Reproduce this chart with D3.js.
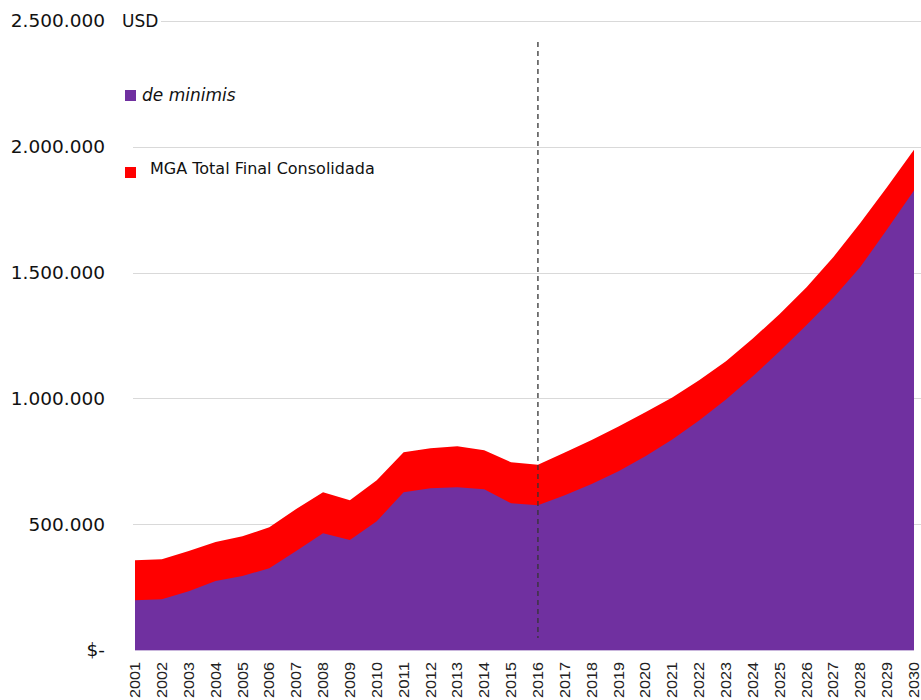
<!DOCTYPE html>
<html>
<head>
<meta charset="utf-8">
<script src="https://cdn.jsdelivr.net/npm/d3@7"></script>
<style>
  body { margin: 0; background: #fff; }
  svg { display: block; }
</style>
</head>
<body>
<div id="chart"></div>
<script>
const years = d3.range(2001, 2031);
const totalValues = [357000, 361000, 393000, 429000, 452000, 488000, 560000, 627000, 595000, 675000,
    786000, 802000, 810000, 794000, 746000, 736000, 785000, 835000, 888000, 945000,
    1004000, 1072000, 1148000, 1238000, 1335000, 1442000, 1562000, 1697000, 1840000, 1988000];
const deMinimisValues = [198000, 202000, 234000, 274000, 294000, 325000, 393000, 464000, 437000, 512000,
    627000, 643000, 647000, 639000, 583000, 575000, 615000, 660000, 710000, 770000,
    837000, 912000, 996000, 1088000, 1187000, 1292000, 1400000, 1522000, 1672000, 1826000];
const yTicks = [0, 500000, 1000000, 1500000, 2000000, 2500000];
const splitYear = 2016;
const seriesNames = ["de minimis", "MGA Total Final Consolidada"];
const seriesColors = ["#7030A0", "#FF0000"];

const width = 921, height = 700;
const margin = { top: 21, right: 7, bottom: 50, left: 135 };

const svg = d3.select("#chart").append("svg")
    .attr("width", width)
    .attr("height", height);

const x = d3.scaleLinear().domain([2001, 2030]).range([margin.left, width - margin.right]);
const y = d3.scaleLinear().domain([0, 2500000]).range([height - margin.bottom, margin.top]);

const data = years.map((yr, i) => ({ year: yr, total: totalValues[i], dm: deMinimisValues[i] }));

// gridlines
svg.append("g")
    .selectAll("line")
    .data(yTicks.slice(1))
    .join("line")
    .attr("x1", margin.left - 2)
    .attr("x2", width)
    .attr("y1", d => Math.round(y(d)) + 0.5)
    .attr("y2", d => Math.round(y(d)) + 0.5)
    .attr("stroke", "#d9d9d9")
    .attr("stroke-width", 1);

// y labels
const fmt = v => v === 0 ? "$-" : d3.format(",")(v).replace(/,/g, ".");
svg.append("g")
    .selectAll("text")
    .data(yTicks)
    .join("text")
    .attr("x", 105)
    .attr("y", d => y(d))
    .attr("dy", "0.35em")
    .attr("text-anchor", "end")
    .attr("font-family", "DejaVu Sans, Verdana, sans-serif")
    .attr("font-size", 18.5)
    .attr("fill", "#111")
    .text(fmt);

// areas
const areaTotal = d3.area()
    .x(d => x(d.year))
    .y0(y(0))
    .y1(d => y(d.total));
const areaDm = d3.area()
    .x(d => x(d.year))
    .y0(y(0))
    .y1(d => y(d.dm));

svg.append("path").datum(data).attr("d", areaTotal).attr("fill", seriesColors[1]);
svg.append("path").datum(data).attr("d", areaDm).attr("fill", seriesColors[0]);

// axis baseline
svg.append("line")
    .attr("x1", x(2001)).attr("x2", x(2030))
    .attr("y1", y(0) + 0.5).attr("y2", y(0) + 0.5)
    .attr("stroke", "#c9b6dc").attr("stroke-width", 1);

// dashed line at 2016
svg.append("line")
    .attr("x1", x(splitYear)).attr("x2", x(splitYear))
    .attr("y1", 42).attr("y2", 638)
    .attr("stroke", "#333")
    .attr("stroke-width", 1.3)
    .attr("stroke-dasharray", "5,4");

// x labels
svg.append("g")
    .selectAll("text")
    .data(years)
    .join("text")
    .attr("transform", d => `translate(${x(d)}, 662) rotate(-90)`)
    .attr("text-anchor", "end")
    .attr("dy", "0.35em")
    .attr("font-family", "Liberation Sans, Arial, sans-serif")
    .attr("font-size", 14.5)
    .attr("textLength", 36)
    .attr("lengthAdjust", "spacingAndGlyphs")
    .attr("fill", "#222")
    .text(d => d);

// USD label
svg.append("rect").attr("x", 118).attr("y", 10).attr("width", 43).attr("height", 22).attr("fill", "#fff");
svg.append("text")
    .attr("x", 122).attr("y", 21).attr("dy", "0.35em")
    .attr("font-family", "DejaVu Sans, Verdana, sans-serif")
    .attr("font-size", 17)
    .attr("fill", "#111")
    .text("USD");

// legend
const legend = svg.append("g");
legend.append("rect").attr("x", 125).attr("y", 90).attr("width", 11).attr("height", 11).attr("fill", seriesColors[0]);
legend.append("text")
    .attr("x", 142).attr("y", 95).attr("dy", "0.35em")
    .attr("font-family", "DejaVu Sans, Verdana, sans-serif")
    .attr("font-style", "italic")
    .attr("font-size", 17)
    .attr("fill", "#111")
    .text(seriesNames[0]);
legend.append("rect").attr("x", 125).attr("y", 167).attr("width", 11).attr("height", 11).attr("fill", seriesColors[1]);
legend.append("text")
    .attr("x", 150).attr("y", 168).attr("dy", "0.35em")
    .attr("font-family", "DejaVu Sans, Verdana, sans-serif")
    .attr("font-size", 16)
    .attr("fill", "#111")
    .text(seriesNames[1]);
</script>
</body>
</html>
